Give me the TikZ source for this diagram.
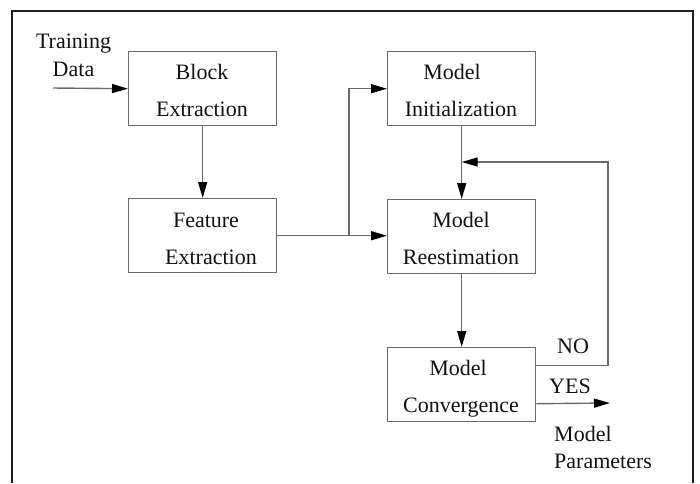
\documentclass[tikz,border=0pt]{standalone}
\usepackage{fontspec}
\setmainfont{Liberation Serif}
\usetikzlibrary{arrows.meta}
\definecolor{boxgray}{HTML}{6A6A6A}
\definecolor{framecol}{HTML}{1E1E1E}
\definecolor{inkcol}{HTML}{111111}
\begin{document}
\begin{tikzpicture}[x=1pt,y=-1pt,
  box/.style={draw=boxgray, line width=1.4pt, minimum width=148pt,
    minimum height=74pt, inner sep=0pt, anchor=north west},
  txt/.style={anchor=base, inner sep=0pt, text=inkcol,
    font=\fontsize{22}{26}\selectfont},
  ltxt/.style={txt, anchor=base west},
  flow/.style={draw=boxgray, line width=1.4pt,
    -{Triangle[length=16pt,width=9pt,color=black]}},
  frame/.style={draw=framecol, line width=2pt}]
\useasboundingbox (0,0) rectangle (700,483);
% outer frame, open at the bottom
\draw[frame] (12,483) -- (12,11) -- (693,11) -- (693,483);

% processing blocks
\node[box] (blk) at (128,51) {};
\node[box] (feat) at (128,198) {};
\node[box] (init) at (387,51) {};
\node[box] (reest) at (387,199) {};
\node[box] (conv) at (387,347) {};

% block captions
\node[txt] (blk1) at (202,79) {Block};
\node[txt] (blk2) at (202,116) {Extraction};
\node[txt] (feat1) at (206,227) {Feature};
\node[txt] (feat2) at (211,264) {Extraction};
\node[txt] (init1) at (452,79) {Model};
\node[txt] (init2) at (461,116) {Initialization};
\node[txt] (reest1) at (461,227) {Model};
\node[txt] (reest2) at (461,264) {Reestimation};
\node[txt] (conv1) at (458,375) {Model};
\node[txt] (conv2) at (461,412) {Convergence};

% free labels
\node[txt] (tr1) at (73.5,48) {Training};
\node[txt] (tr2) at (73.5,76) {Data};
\node[txt] (no) at (573,353) {NO};
\node[txt] (yes) at (570,393) {YES};
\node[ltxt] (mp1) at (554,441) {Model};
\node[ltxt] (mp2) at (554,468) {Parameters};

% connectors
\coordinate (tdin) at (53,88);
\draw[flow] (tdin) -- (blk.west);
\draw[flow] (blk.south) -- (feat.north);
\draw[flow] (feat.east) -- (feat.east -| reest.west);
\coordinate (split) at (349,235);
\draw[flow] (split) |- (init.west);
\draw[flow] (init.south) -- (reest.north);
\draw[flow] (reest.south) -- (conv.north);
\coordinate (loopR) at (608,162);
\draw[flow] ([yshift=19pt]conv.east) -| (loopR) -- (loopR -| init.south);
\coordinate (out) at (610,403);
\draw[flow] ([yshift=-19pt]conv.east) -- (out);
\end{tikzpicture}
\end{document}
